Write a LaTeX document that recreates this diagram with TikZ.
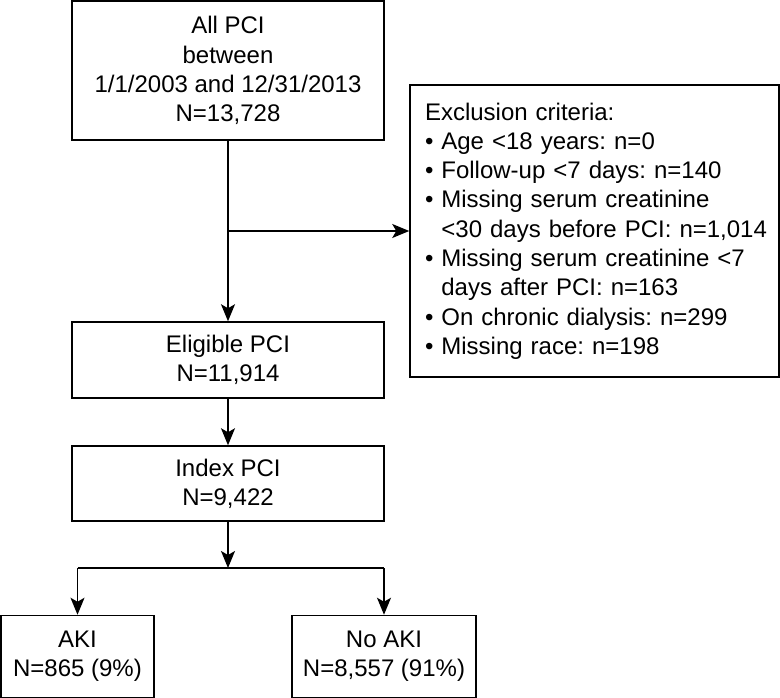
\documentclass[tikz,border=0pt]{standalone}
\usepackage{fontspec}
\setmainfont{Liberation Sans}
\usetikzlibrary{arrows.meta}
\frenchspacing
\begin{document}
\begin{tikzpicture}[x=1pt,y=-1pt,
  box/.style={draw=black,line width=1.5pt,inner sep=0pt,align=center,
    font=\fontsize{24}{29.3}\selectfont\frenchspacing},
  arr/.style={line width=1.5pt,-{Stealth[length=17pt,width=14pt,inset=4pt]}},
  ln/.style={line width=1.5pt}]
\useasboundingbox (0,0) rectangle (780,698);
\node[box,minimum width=312pt,minimum height=139pt] (all) at (228,70.5)
  {All PCI\\between\\1/1/2003 and 12/31/2013\\N=13,728};
\node[box,minimum width=369pt,minimum height=292pt,text width=339pt,inner xsep=15pt,align=left] (excl) at (594.5,231)
  {\mbox{Exclusion criteria:}\\
   \mbox{• Age <18 years: n=0}\\
   \mbox{• Follow-up <7 days: n=140}\\
   \mbox{• Missing serum creatinine}\\
   \mbox{\hphantom{• }<30 days before PCI: n=1,014}\\
   \mbox{• Missing serum creatinine <7}\\
   \mbox{\hphantom{• }days after PCI: n=163}\\
   \mbox{• On chronic dialysis: n=299}\\
   \mbox{• Missing race: n=198}};
\node[box,minimum width=312pt,minimum height=76pt] (elig) at (228,360)
  {Eligible PCI\\N=11,914};
\node[box,minimum width=312pt,minimum height=75pt] (idx) at (228,483.5)
  {Index PCI\\N=9,422};
\node[box,minimum width=153pt,minimum height=82pt] (aki) at (77.5,656.5)
  {AKI\\N=865 (9\%)};
\node[box,minimum width=184pt,minimum height=82pt] (noaki) at (384,656.5)
  {No AKI\\N=8,557 (91\%)};
\coordinate (br) at (228,231);
\coordinate (split) at (228,568);
\draw[arr] (all.south) -- (elig.north);
\draw[arr] (br) -- (excl.west |- br);
\draw[arr] (elig.south) -- (idx.north);
\draw[arr] (idx.south) -- (split);
\draw[ln] (aki.north |- split) -- (noaki.north |- split);
\draw[arr] (aki.north |- split) -- (aki.north);
\draw[arr] (noaki.north |- split) -- (noaki.north);
\end{tikzpicture}
\end{document}
